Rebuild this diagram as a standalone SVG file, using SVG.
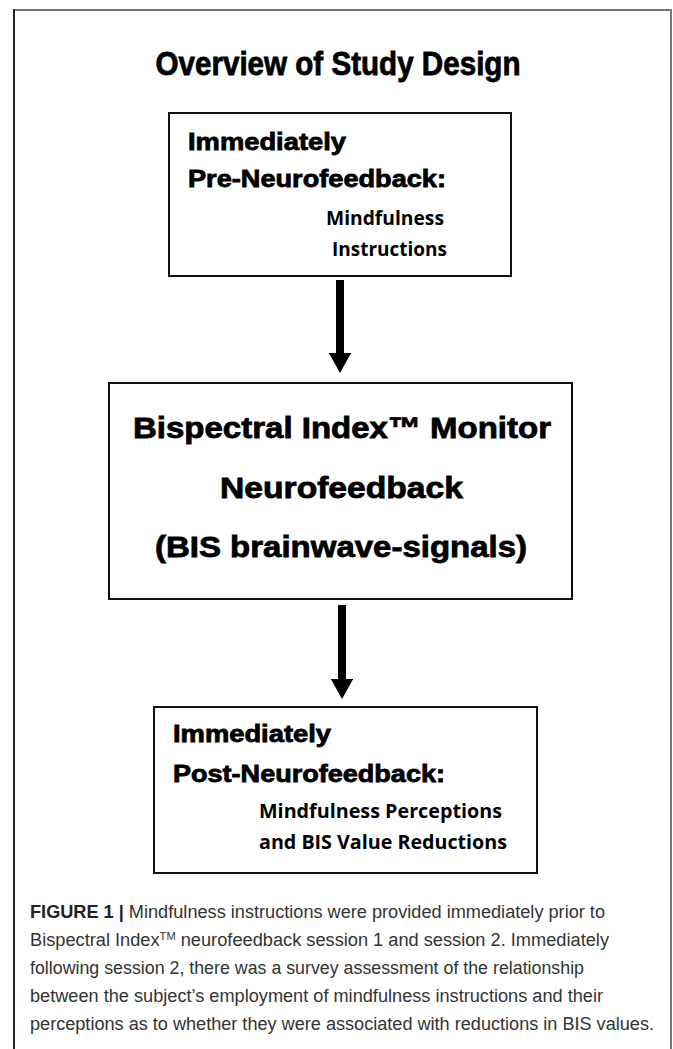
<svg xmlns="http://www.w3.org/2000/svg" width="673" height="1049" viewBox="0 0 673 1049">
<style>
.box{fill:#fff;stroke:#111;stroke-width:2}
.h{font-family:"Liberation Sans",Arial,sans-serif;font-weight:bold;fill:#000;stroke:#000;stroke-width:0.8}
.s{font-family:"Open Sans","Noto Sans",sans-serif;font-weight:bold;fill:#000;font-size:19px}
.cap{font-family:"Liberation Sans",Arial,sans-serif;fill:#333;font-size:18px}
.capb{font-weight:bold;fill:#222}
</style>
<defs>
<marker id="ah" markerWidth="2.5" markerHeight="2.8" refX="0" refY="1.4" orient="auto" markerUnits="strokeWidth">
<path d="M0,0 L2.5,1.4 L0,2.8 Z" fill="#000"/>
</marker>
</defs>
<rect width="673" height="1049" fill="#fff"/>
<g id="frame">
<line x1="14" y1="10" x2="671" y2="10" stroke="#777" stroke-width="2"/>
<line x1="14" y1="9" x2="14" y2="1049" stroke="#222" stroke-width="2"/>
<line x1="671" y1="9" x2="671" y2="1049" stroke="#777" stroke-width="2"/>
</g>
<g id="title">
<text class="h" x="338" y="75" font-size="33" text-anchor="middle" textLength="365" lengthAdjust="spacingAndGlyphs" stroke-width="0.4">Overview of Study Design</text>
</g>
<g id="connectors">
<line x1="340" y1="280" x2="340" y2="353" stroke="#000" stroke-width="8" marker-end="url(#ah)"/>
<line x1="342" y1="605" x2="342" y2="679" stroke="#000" stroke-width="8" marker-end="url(#ah)"/>
</g>
<g id="pre">
<rect class="box" x="169" y="113" width="342" height="163"/>
<text class="h" x="188" y="150" font-size="24" textLength="158" lengthAdjust="spacingAndGlyphs">Immediately</text>
<text class="h" x="188" y="187" font-size="24" textLength="258" lengthAdjust="spacingAndGlyphs">Pre-Neurofeedback:</text>
<text class="s" x="326" y="225" textLength="118" lengthAdjust="spacingAndGlyphs">Mindfulness</text>
<text class="s" x="332" y="256" textLength="115" lengthAdjust="spacingAndGlyphs">Instructions</text>
</g>
<g id="bis">
<rect class="box" x="109" y="383" width="463" height="216"/>
<text class="h" x="133" y="438" font-size="30" textLength="418" lengthAdjust="spacingAndGlyphs">Bispectral Index™ Monitor</text>
<text class="h" x="220" y="498" font-size="30" textLength="243" lengthAdjust="spacingAndGlyphs">Neurofeedback</text>
<text class="h" x="155" y="557" font-size="30" textLength="372" lengthAdjust="spacingAndGlyphs">(BIS brainwave-signals)</text>
</g>
<g id="post">
<rect class="box" x="154" y="707" width="383" height="166"/>
<text class="h" x="173" y="742" font-size="24" textLength="158" lengthAdjust="spacingAndGlyphs">Immediately</text>
<text class="h" x="173" y="782" font-size="24" textLength="272" lengthAdjust="spacingAndGlyphs">Post-Neurofeedback:</text>
<text class="s" x="259" y="818" textLength="243" lengthAdjust="spacingAndGlyphs">Mindfulness Perceptions</text>
<text class="s" x="259" y="849" textLength="248" lengthAdjust="spacingAndGlyphs">and BIS Value Reductions</text>
</g>
<g id="caption">
<text class="cap" x="30" y="918" textLength="575" lengthAdjust="spacingAndGlyphs"><tspan class="capb">FIGURE 1 |</tspan> Mindfulness instructions were provided immediately prior to</text>
<text class="cap" x="30" y="946" textLength="579" lengthAdjust="spacingAndGlyphs">Bispectral Index<tspan font-size="11" dy="-6">TM</tspan><tspan dy="6"> neurofeedback session 1 and session 2. Immediately</tspan></text>
<text class="cap" x="30" y="974" textLength="554" lengthAdjust="spacingAndGlyphs">following session 2, there was a survey assessment of the relationship</text>
<text class="cap" x="30" y="1002" textLength="573" lengthAdjust="spacingAndGlyphs">between the subject’s employment of mindfulness instructions and their</text>
<text class="cap" x="30" y="1030" textLength="624" lengthAdjust="spacingAndGlyphs">perceptions as to whether they were associated with reductions in BIS values.</text>
</g>
</svg>
